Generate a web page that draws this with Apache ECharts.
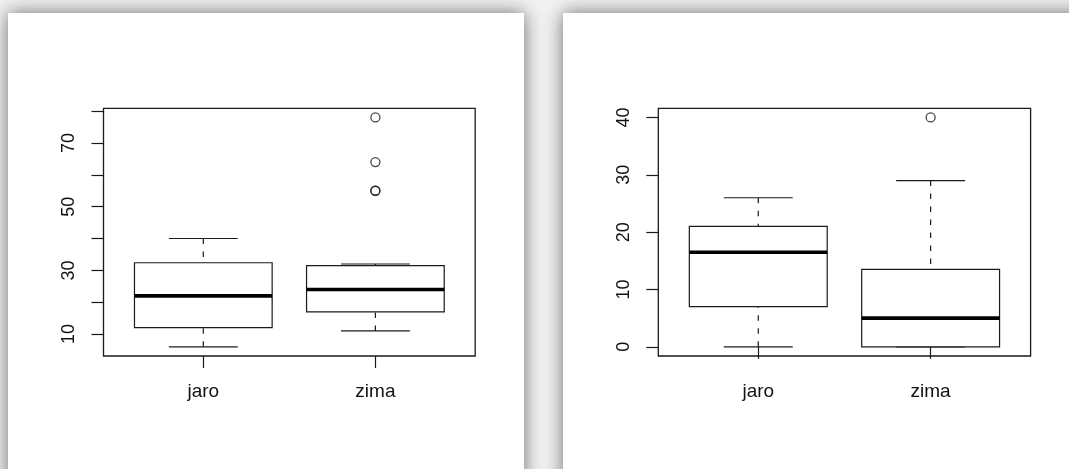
<!DOCTYPE html>
<html>
<head>
<meta charset="utf-8">
<script src="https://cdn.jsdelivr.net/npm/echarts@6/dist/echarts.min.js"></script>
<style>
html,body{margin:0;padding:0;background:#f2f2f2;}
#c{width:1069px;height:469px;}
</style>
</head>
<body>
<div id="c"></div>
<script>
// ---- data ----
const categories = ['jaro', 'zima'];
// five-number summaries [low whisker, Q1, median, Q3, high whisker]
const leftJaro = [6, 12, 22, 32.4, 40];
const leftZima = [11, 17, 24, 31.5, 32];
const leftZimaOutliers = [55, 55, 64, 78];
const leftYTicks = [10, 20, 30, 40, 50, 60, 70, 80];
const leftYLabels = [10, 30, 50, 70];

const rightJaro = [0, 7, 16.5, 21, 26];
const rightZima = [0, 0, 5, 13.5, 29];
const rightZimaOutliers = [40];
const rightYTicks = [0, 10, 20, 30, 40];
const rightYLabels = [0, 10, 20, 30, 40];

// ---- helpers ----
const FONT = 'Liberation Sans, Arial, Helvetica, sans-serif';
const INK = '#1a1a1a';

function rRange(vals) {
  const lo = Math.min.apply(null, vals), hi = Math.max.apply(null, vals);
  const pad = 0.04 * (hi - lo);
  return [lo - pad, hi + pad];
}
const nCat = categories.length;
const xMin = 0.5 - 0.04 * nCat, xMax = nCat + 0.5 + 0.04 * nCat;

function renderBox(params, api) {
  const x = api.value(0);
  const lo = api.coord([x, api.value(1)]);
  const q1 = api.coord([x, api.value(2)]);
  const md = api.coord([x, api.value(3)]);
  const q3 = api.coord([x, api.value(4)]);
  const hi = api.coord([x, api.value(5)]);
  const bw = api.size([0.8, 0])[0];
  const sw = api.size([0.4, 0])[0];
  const cx = lo[0];
  const thin = {stroke: INK, lineWidth: 1.2};
  const dash = {stroke: INK, lineWidth: 1.2, lineDash: [5.5, 7.5]};
  return {
    type: 'group',
    children: [
      {type: 'line', shape: {x1: cx, y1: hi[1], x2: cx, y2: q3[1]}, style: dash},
      {type: 'line', shape: {x1: cx, y1: lo[1], x2: cx, y2: q1[1]}, style: dash},
      {type: 'line', shape: {x1: cx - sw / 2, y1: hi[1], x2: cx + sw / 2, y2: hi[1]}, style: thin},
      {type: 'line', shape: {x1: cx - sw / 2, y1: lo[1], x2: cx + sw / 2, y2: lo[1]}, style: thin},
      {type: 'rect', shape: {x: cx - bw / 2, y: q3[1], width: bw, height: q1[1] - q3[1]},
        style: {fill: '#fff', stroke: INK, lineWidth: 1.2}},
      {type: 'line', shape: {x1: cx - bw / 2, y1: md[1], x2: cx + bw / 2, y2: md[1]},
        style: {stroke: '#000', lineWidth: 3.6}}
    ]
  };
}

function panelAxes(gi, ticks, labels, range) {
  const x = {
    gridIndex: gi, type: 'value', min: xMin, max: xMax,
    axisLine: {show: false}, splitLine: {show: false},
    axisTick: {show: true, length: 12, customValues: [1, 2], lineStyle: {color: INK, width: 1.2}},
    axisLabel: {customValues: [1, 2], formatter: v => categories[Math.round(v) - 1],
      margin: 26, fontSize: 19, color: '#111', fontFamily: FONT}
  };
  const y = {
    gridIndex: gi, type: 'value', min: range[0], max: range[1],
    axisLine: {show: false}, splitLine: {show: false},
    axisTick: {show: true, length: 12, customValues: ticks, lineStyle: {color: INK, width: 1.2}},
    axisLabel: {customValues: labels, rotate: 90, margin: 25, fontSize: 18, color: '#111', fontFamily: FONT}
  };
  return [x, y];
}

const leftRange = rRange(leftJaro.concat(leftZima, leftZimaOutliers));
const rightRange = rRange(rightJaro.concat(rightZima, rightZimaOutliers));
const a0 = panelAxes(0, leftYTicks, leftYLabels, leftRange);
const a1 = panelAxes(1, rightYTicks, rightYLabels, rightRange);

const chart = echarts.init(document.getElementById('c'), null, {renderer: 'canvas'});
chart.setOption({
  animation: false,
  backgroundColor: '#f2f2f2',
  graphic: [
    {type: 'rect', z: -5, silent: true, shape: {x: 8, y: 13, width: 516, height: 520},
      style: {fill: '#fff', shadowBlur: 18, shadowColor: 'rgba(0,0,0,0.55)'}},
    {type: 'rect', z: -5, silent: true, shape: {x: 563, y: 13, width: 560, height: 520},
      style: {fill: '#fff', shadowBlur: 18, shadowColor: 'rgba(0,0,0,0.55)'}}
  ],
  grid: [
    {left: 103.5, top: 108.3, width: 371.7, height: 247.7, show: true,
      borderColor: INK, borderWidth: 1.3, backgroundColor: 'transparent'},
    {left: 658.3, top: 108.3, width: 372.3, height: 247.7, show: true,
      borderColor: INK, borderWidth: 1.3, backgroundColor: 'transparent'}
  ],
  xAxis: [a0[0], a1[0]],
  yAxis: [a0[1], a1[1]],
  series: [
    {type: 'custom', xAxisIndex: 0, yAxisIndex: 0, renderItem: renderBox,
      encode: {x: 0, y: [1, 2, 3, 4, 5]},
      data: [[1].concat(leftJaro), [2].concat(leftZima)]},
    {type: 'scatter', xAxisIndex: 0, yAxisIndex: 0, symbol: 'circle', symbolSize: 9,
      itemStyle: {color: 'rgba(255,255,255,0)', borderColor: INK, borderWidth: 1.3},
      data: leftZimaOutliers.map(v => [2, v])},
    {type: 'custom', xAxisIndex: 1, yAxisIndex: 1, renderItem: renderBox,
      encode: {x: 0, y: [1, 2, 3, 4, 5]},
      data: [[1].concat(rightJaro), [2].concat(rightZima)]},
    {type: 'scatter', xAxisIndex: 1, yAxisIndex: 1, symbol: 'circle', symbolSize: 9,
      itemStyle: {color: 'rgba(255,255,255,0)', borderColor: INK, borderWidth: 1.3},
      data: rightZimaOutliers.map(v => [2, v])}
  ]
});
</script>
</body>
</html>
